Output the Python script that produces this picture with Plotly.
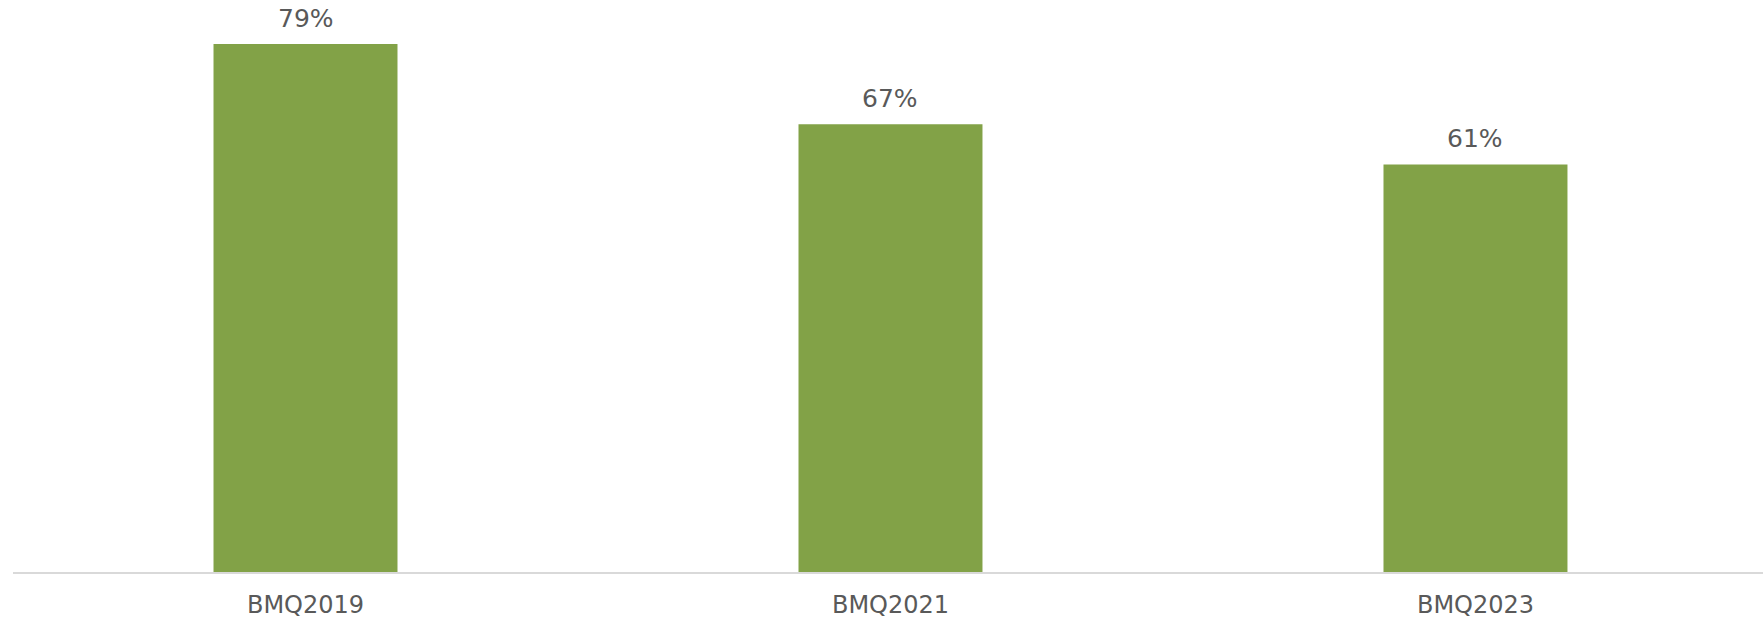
import plotly.graph_objects as go

# Survey waves and their share (%)
categories = ["BMQ2019", "BMQ2021", "BMQ2023"]
values = [79, 67, 61]
labels = ["79%", "67%", "61%"]

BAR_COLOR = "#82A247"
TEXT_COLOR = "#595959"
FONT = "Verdana, DejaVu Sans, sans-serif"

fig = go.Figure(
    go.Bar(
        x=categories,
        y=values,
        marker=dict(color=BAR_COLOR, line=dict(width=0)),
        hoverinfo="skip",
    )
)

# Value labels above each bar
for cat, val, lab in zip(categories, values, labels):
    fig.add_annotation(
        x=cat,
        y=val,
        text=lab,
        showarrow=False,
        yanchor="bottom",
        yshift=9,
        font=dict(family=FONT, size=25, color=TEXT_COLOR),
    )

fig.update_layout(
    width=1763,
    height=618,
    margin=dict(l=13, r=0, t=0, b=46),
    paper_bgcolor="white",
    plot_bgcolor="white",
    bargap=0.6855,
    showlegend=False,
    font=dict(family=FONT, size=24, color=TEXT_COLOR),
)

fig.update_xaxes(
    range=[-0.5, 2.4915],
    showline=True,
    linecolor="#D9D9D9",
    linewidth=2,
    showgrid=False,
    ticks="",
    tickfont=dict(family=FONT, size=24, color=TEXT_COLOR),
    ticklabelstandoff=10,
)

fig.update_yaxes(
    range=[0, 85.6],
    visible=False,
    showgrid=False,
    zeroline=False,
)

fig.write_html("out.html")
